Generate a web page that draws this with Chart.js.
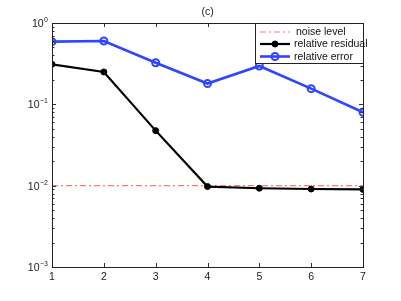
<!DOCTYPE html>
<html>
<head>
<meta charset="utf-8">
<script src="https://cdn.jsdelivr.net/npm/chart.js@4/dist/chart.umd.min.js"></script>
<style>
  html, body { margin: 0; padding: 0; background: #fff; }
</style>
</head>
<body>
<canvas id="chart" width="401" height="301"></canvas>
<script>
const iterations = [1, 2, 3, 4, 5, 6, 7];
const relativeResidual = [0.31, 0.25, 0.0475, 0.00975, 0.0093, 0.0091, 0.0090];
const relativeError = [0.59, 0.60, 0.325, 0.18, 0.296, 0.156, 0.080];
const noiseLevel = [0.01, 0.01, 0.01, 0.01, 0.01, 0.01, 0.01];
const yPowers = [0, -1, -2, -3];
const xTicks = [1, 2, 3, 4, 5, 6, 7];

const FONT = '"Liberation Sans", Arial, sans-serif';

function pts(ys) {
    return iterations.map((x, i) => ({ x: x, y: ys[i] }));
}

// box, inward ticks, log labels, title and legend
const matlabAxes = {
    id: 'matlabAxes',
    afterDraw(chart) {
        const ctx = chart.ctx;
        const a = chart.chartArea;
        const xs = chart.scales.x;
        const ys = chart.scales.y;
        ctx.save();

        ctx.strokeStyle = '#333';
        ctx.lineWidth = 1;
        ctx.beginPath();
        xTicks.forEach(v => {
            const px = Math.round(xs.getPixelForValue(v)) + 0.5;
            ctx.moveTo(px, a.bottom); ctx.lineTo(px, a.bottom - 4);
            ctx.moveTo(px, a.top); ctx.lineTo(px, a.top + 4);
        });
        for (let p = -3; p < 0; p++) {
            for (let m = 1; m < 10; m++) {
                const v = m * Math.pow(10, p);
                const py = Math.round(ys.getPixelForValue(v)) + 0.5;
                const len = m === 1 ? 4 : 2.5;
                ctx.moveTo(a.left, py); ctx.lineTo(a.left + len, py);
                ctx.moveTo(a.right, py); ctx.lineTo(a.right - len, py);
            }
        }
        ctx.stroke();

        ctx.strokeStyle = '#222';
        ctx.strokeRect(Math.round(a.left) + 0.5, Math.round(a.top) + 0.5,
            Math.round(a.right - a.left), Math.round(a.bottom - a.top));

        // y labels 10^k
        ctx.fillStyle = '#222';
        ctx.textAlign = 'right';
        ctx.textBaseline = 'alphabetic';
        yPowers.forEach(p => {
            const py = ys.getPixelForValue(Math.pow(10, p));
            const exp = p === 0 ? '0' : '\u2212' + (-p);
            ctx.font = '7px ' + FONT;
            const ew = ctx.measureText(exp).width;
            ctx.fillText(exp, 48, py - 1);
            ctx.font = '10.5px ' + FONT;
            ctx.fillText('10', 48 - ew - 0.5, py + 4);
        });

        // title
        ctx.textAlign = 'center';
        ctx.font = '10.5px ' + FONT;
        ctx.fillText('(c)', (a.left + a.right) / 2, 15);

        // legend
        const lx = 255, ly = 23, lw = 108, lh = 40;
        ctx.fillStyle = '#fff';
        ctx.fillRect(lx, ly, lw, lh);
        ctx.strokeStyle = '#222';
        ctx.lineWidth = 1;
        ctx.strokeRect(lx + 0.5, ly + 0.5, lw, lh);
        const rows = [
            { label: 'noise level', ds: chart.data.datasets[2], y: 32, tx: 296 },
            { label: 'relative residual', ds: chart.data.datasets[0], y: 44, tx: 294 },
            { label: 'relative error', ds: chart.data.datasets[1], y: 56.5, tx: 294 }
        ];
        rows.forEach(r => {
            ctx.strokeStyle = r.ds.borderColor;
            ctx.lineWidth = r.ds.borderWidth;
            ctx.setLineDash(r.ds.borderDash || []);
            ctx.beginPath();
            ctx.moveTo(260, r.y); ctx.lineTo(290, r.y);
            ctx.stroke();
            ctx.setLineDash([]);
            if (r.ds.pointRadius > 0) {
                ctx.beginPath();
                ctx.arc(275, r.y, r.ds.pointRadius, 0, Math.PI * 2);
                ctx.fillStyle = r.ds.pointBackgroundColor;
                ctx.fill();
                ctx.lineWidth = r.ds.pointBorderWidth;
                ctx.strokeStyle = r.ds.pointBorderColor;
                ctx.stroke();
            }
            ctx.fillStyle = '#111';
            ctx.textAlign = 'left';
            ctx.textBaseline = 'middle';
            ctx.font = '10.5px ' + FONT;
            ctx.fillText(r.label, r.tx, r.y + 0.5);
        });
        ctx.restore();
    }
};

new Chart(document.getElementById('chart'), {
    type: 'line',
    data: {
        datasets: [
            {
                label: 'relative residual',
                data: pts(relativeResidual),
                borderColor: '#000',
                borderWidth: 2.2,
                pointRadius: 3,
                pointBackgroundColor: '#000',
                pointBorderColor: '#000',
                pointBorderWidth: 1,
                tension: 0
            },
            {
                label: 'relative error',
                data: pts(relativeError),
                borderColor: '#2f45ff',
                borderWidth: 2.6,
                pointRadius: 3.5,
                pointBackgroundColor: 'rgba(255,255,255,0)',
                pointBorderColor: '#2f45ff',
                pointBorderWidth: 2,
                tension: 0
            },
            {
                label: 'noise level',
                data: pts(noiseLevel),
                borderColor: '#ff7a7a',
                borderWidth: 1.2,
                borderDash: [6, 3, 2, 3],
                pointRadius: 0,
                tension: 0
            }
        ]
    },
    options: {
        responsive: false,
        animation: false,
        layout: { padding: { left: 0, top: 23, right: 38, bottom: 0 } },
        plugins: {
            legend: { display: false },
            tooltip: { enabled: false }
        },
        scales: {
            x: {
                type: 'linear',
                min: 1,
                max: 7,
                afterBuildTicks: s => { s.ticks = xTicks.map(v => ({ value: v })); },
                afterFit: s => { s.height = 34; },
                grid: { display: false, drawTicks: false },
                border: { display: false },
                ticks: { color: '#222', font: { family: FONT, size: 10.5 }, padding: 4, maxRotation: 0 }
            },
            y: {
                type: 'logarithmic',
                min: 1e-3,
                max: 1,
                afterFit: s => { s.width = 52; },
                grid: { display: false },
                border: { display: false },
                ticks: { display: false }
            }
        }
    },
    plugins: [matlabAxes]
});
</script>
</body>
</html>
